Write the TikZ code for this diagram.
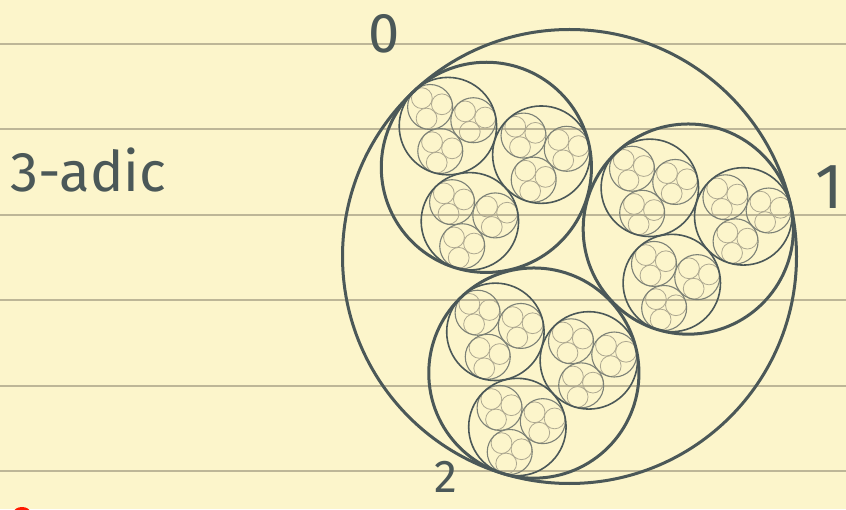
\documentclass[tikz,border=0pt]{standalone}
\usepackage{fontspec}
\setmainfont{Fira Sans}
\definecolor{paper}{HTML}{FCF5CB}
\definecolor{rule}{HTML}{BDB697}
\definecolor{ink}{HTML}{4B5858}
\definecolor{inkthree}{HTML}{7C8176}
\definecolor{inkfour}{HTML}{ADA890}
\tikzset{
  lzero/.style={draw=ink,line width=3pt},
  lone/.style={draw=ink,line width=3pt},
  ltwo/.style={draw=ink,line width=1.6pt},
  lthree/.style={draw=inkthree,line width=1.1pt},
  lfour/.style={draw=inkfour,line width=0.8pt},
  hand/.style={text=ink,inner sep=0pt,font=\fontsize{56}{56}\selectfont},
}
\begin{document}
\begin{tikzpicture}[x=1pt,y=1pt]
\useasboundingbox (0,0) rectangle (846,509);
\clip (0,0) rectangle (846,509);
\fill[paper] (0,0) rectangle (846,509);
\foreach \yy in {465,380,294,209,123,38}{
  \draw[rule,line width=2pt] (0,\yy) -- (846,\yy);
}
\fill[red!80!orange] (22,-3) ellipse[x radius=8,y radius=5];
% level 4
\foreach \a in {133,13,-107}{
 \foreach \b in {133,13,-107}{
  \foreach \c in {133,13,-107}{
   \foreach \e in {133,13,-107}{
    \draw[lfour] ({569.5+121.9*cos(\a)+56.4*cos(\b)+26.1*cos(\c)+12.1*cos(\e)},
                  {252.5+121.9*sin(\a)+56.4*sin(\b)+26.1*sin(\c)+12.1*sin(\e)}) circle[radius=10.4];
}}}}
% level 3
\foreach \a in {133,13,-107}{
 \foreach \b in {133,13,-107}{
  \foreach \c in {133,13,-107}{
    \draw[lthree] ({569.5+121.9*cos(\a)+56.4*cos(\b)+26.1*cos(\c)},
                   {252.5+121.9*sin(\a)+56.4*sin(\b)+26.1*sin(\c)}) circle[radius=22.5];
}}}
% level 2
\foreach \a in {133,13,-107}{
 \foreach \b in {133,13,-107}{
    \draw[ltwo] ({569.5+121.9*cos(\a)+56.4*cos(\b)},
                 {252.5+121.9*sin(\a)+56.4*sin(\b)}) circle[radius=48.7];
}}
% level 1
\foreach \a in {133,13,-107}{
    \draw[lone] ({569.5+121.9*cos(\a)},{252.5+121.9*sin(\a)}) circle[radius=105.1];
}
% level 0
\draw[lzero] (569.5,252.5) circle[radius=227];
% labels
\node[hand] (zero) at (384,475) {0};
\node[hand,font=\fontsize{64}{64}\selectfont] (one) at (829,322) {1};
\node[hand,font=\fontsize{46}{46}\selectfont] (two) at (446,32) {2};
\node[hand,anchor=base west] (padic) at (10,317) {3-adic};
\end{tikzpicture}
\end{document}
